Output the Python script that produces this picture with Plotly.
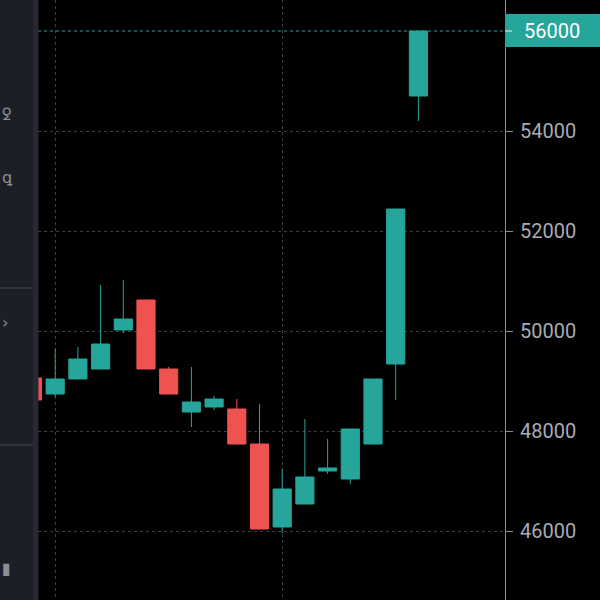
import plotly.graph_objects as go

# ---- data ----
idx = list(range(18))
opens  = [49060, 48740, 49040, 49240, 50020, 50620, 49240, 48380, 48480, 48440, 47740, 46080, 46540, 47200, 47040, 47740, 49340, 54700]
highs  = [49100, 49640, 49680, 50920, 51020, 50620, 49280, 49280, 48700, 48640, 48540, 47240, 48240, 47840, 48040, 49040, 52440, 56000]
lows   = [48620, 48680, 49040, 49240, 49960, 49240, 48740, 48080, 48420, 47740, 46040, 45960, 46540, 47140, 46940, 47740, 48620, 54200]
closes = [48620, 49040, 49440, 49740, 50240, 49240, 48740, 48580, 48640, 47740, 46040, 46840, 47080, 47260, 48040, 49040, 52440, 56000]
ytick_vals = [46000, 48000, 50000, 52000, 54000]
last_price = 56000

TEAL = "#26a69a"
RED = "#ef5350"

fig = go.Figure()
fig.add_trace(go.Candlestick(
    x=idx, open=opens, high=highs, low=lows, close=closes,
    increasing=dict(line=dict(color=TEAL, width=1), fillcolor=TEAL),
    decreasing=dict(line=dict(color=RED, width=1), fillcolor=RED),
    whiskerwidth=0, showlegend=False, hoverinfo="skip",
))

L, R = 38, 95
W = 600 - L - R
def px(p):  # pixel x -> paper x
    return (p - L) / W
def py(p):  # pixel y -> paper y
    return 1 - p / 600

shapes = [
    # last price dotted line
    dict(type="line", xref="paper", yref="y", x0=0, x1=1, y0=last_price, y1=last_price,
         line=dict(color=TEAL, width=1, dash="dot"), layer="above"),
    # last price label box
    dict(type="rect", xref="paper", yref="paper", x0=px(505), x1=px(600), y0=py(47), y1=py(14),
         fillcolor=TEAL, line=dict(width=0), layer="above"),
    dict(type="line", xref="paper", yref="paper", x0=px(505), x1=px(512), y0=py(31), y1=py(31),
         line=dict(color="#e8f5f3", width=1), layer="above"),
    # left toolbar panel
    dict(type="rect", xref="paper", yref="paper", x0=px(0), x1=px(33), y0=0, y1=1,
         fillcolor="#1c1f27", line=dict(width=0), layer="above"),
    dict(type="rect", xref="paper", yref="paper", x0=px(33), x1=px(38.5), y0=0, y1=1,
         fillcolor="#262931", line=dict(width=0), layer="above"),
    dict(type="line", xref="paper", yref="paper", x0=px(0), x1=px(33), y0=py(288), y1=py(288),
         line=dict(color="#30343d", width=2), layer="above"),
    dict(type="line", xref="paper", yref="paper", x0=px(0), x1=px(33), y0=py(445), y1=py(445),
         line=dict(color="#30343d", width=2), layer="above"),
]

annotations = [
    dict(x=px(552), xref="paper", y=last_price, yref="y", text=str(last_price),
         xanchor="center", yanchor="middle", showarrow=False,
         font=dict(color="white", size=20, family="Roboto")),
]
# partial toolbar icons (cut off at the left edge)
for ty, glyph in [(115, "ꝿ"), (178, "ꝗ"), (322, "›"), (568, "▮")]:
    annotations.append(dict(x=px(0), xref="paper", y=py(ty), yref="paper", text=glyph,
                            xanchor="left", yanchor="middle", showarrow=False,
                            font=dict(color="#8a8e98", size=16, family="DejaVu Sans")))

fig.update_layout(
    width=600, height=600,
    margin=dict(l=L, r=R, t=0, b=0),
    paper_bgcolor="#000000", plot_bgcolor="#000000",
    boxgap=0.2, boxgroupgap=0,
    shapes=shapes, annotations=annotations,
    xaxis=dict(range=[(L - 32.5) / 22.7, (600 - R - 32.5) / 22.7],
               rangeslider=dict(visible=False), showticklabels=False,
               tickvals=[1, 11], showgrid=True, gridcolor="#3a3d45", griddash="dot",
               gridwidth=1, zeroline=False, showline=False, ticks=""),
    yaxis=dict(side="right", range=[56000 - 569 * 20, 56000 + 31 * 20],
               tickvals=ytick_vals, ticktext=[str(v) for v in ytick_vals],
               showgrid=True, gridcolor="#3a3d45", griddash="dot", gridwidth=1,
               zeroline=False, showline=True, linecolor="#8a8d94", linewidth=1,
               ticks="outside", ticklen=7, tickcolor="#8a8d94",
               tickfont=dict(color="#a9acb3", size=20, family="Roboto"),
               ticklabelstandoff=3),
    font=dict(family="Roboto"),
)

fig.write_html("out.html", config={"displayModeBar": False},
               post_script="document.body.style.margin='0';document.body.style.padding='0';document.body.style.background='#000';")
